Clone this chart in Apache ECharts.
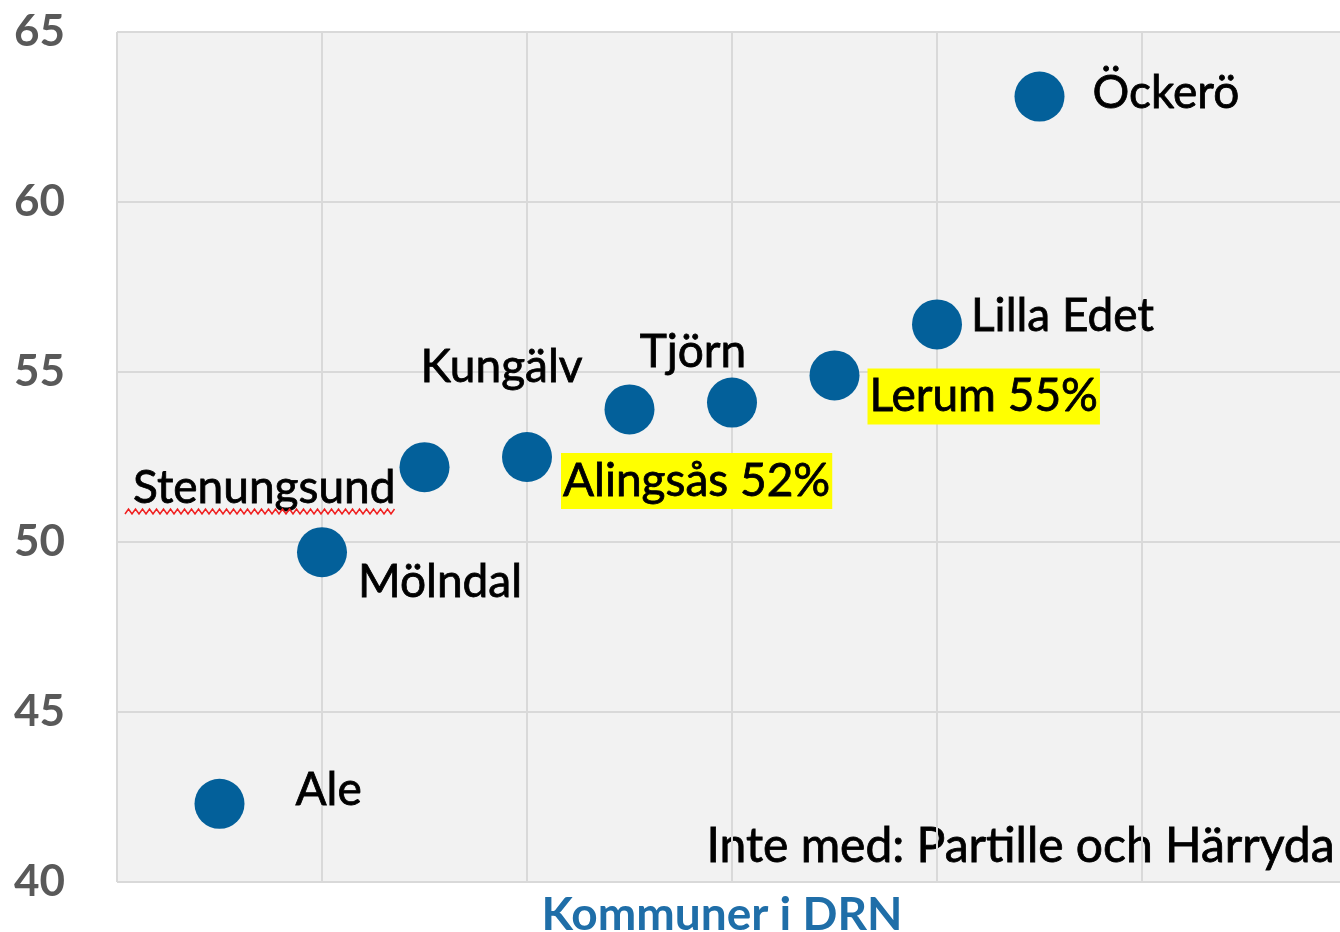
<!DOCTYPE html>
<html>
<head>
<meta charset="utf-8">
<title>Kommuner i DRN</title>
<script src="https://cdn.jsdelivr.net/npm/echarts@6/dist/echarts.min.js"></script>
<style>
  html, body { margin: 0; padding: 0; background: #fff; }
  #chart { width: 1340px; height: 932px; }
</style>
</head>
<body>
<div id="chart"></div>
<script>
// kommuner, x-position along the axis and value (%)
const kommuner = ['Ale', 'Mölndal', 'Stenungsund', 'Alingsås 52%', 'Kungälv', 'Tjörn', 'Lerum 55%', 'Lilla Edet', 'Öckerö']
const xPos = [0.5, 1, 1.5, 2, 2.5, 3, 3.5, 4, 4.5]
const andel = [42.3, 49.7, 52.2, 52.5, 53.9, 54.1, 54.9, 56.4, 63.1]
const markerade = ['Alingsås 52%', 'Lerum 55%']
const yTicks = [40, 45, 50, 55, 60, 65]

// where each label sits relative to its point
const labelPlace = {
  'Ale': { align: 'left', offset: [76, -14] },
  'Mölndal': { align: 'left', offset: [36, 30] },
  'Stenungsund': { align: 'right', offset: [-29, 21] },
  'Alingsås 52%': { align: 'left', offset: [34, 24] },
  'Kungälv': { align: 'right', offset: [-47, -42] },
  'Tjörn': { align: 'center', offset: [-39, -50] },
  'Lerum 55%': { align: 'left', offset: [33, 21] },
  'Lilla Edet': { align: 'left', offset: [34, -8] },
  'Öckerö': { align: 'left', offset: [53, -3] }
}

const FONT = 'Lato, "Open Sans", sans-serif'

let chart = echarts.init(document.getElementById('chart'))

let punkter = kommuner.map((namn, i) => {
  let p = labelPlace[namn]
  let hl = markerade.includes(namn)
  return {
    name: namn,
    value: [xPos[i], andel[i]],
    label: {
      show: true,
      position: 'inside',
      formatter: namn,
      align: p.align,
      verticalAlign: 'middle',
      offset: p.offset,
      color: '#000',
      fontFamily: FONT,
      fontSize: 46,
      textBorderColor: '#000',
      textBorderWidth: 0.8,
      backgroundColor: hl ? '#ffff00' : 'transparent',
      padding: hl ? [6, 2, 4, 2] : 0
    }
  }
})

// red squiggle under Stenungsund (spell check mark in the original)
let squiggle = []
for (let x = 125, k = 0; x <= 396; x += 3.5, k++) {
  squiggle.push([x, k % 2 ? 509 : 514])
}

let options = {
  animation: false,
  backgroundColor: '#fff',
  grid: {
    left: 117,
    top: 32,
    width: 1230,
    height: 850,
    show: true,
    backgroundColor: '#f2f2f2',
    borderWidth: 0,
    containLabel: false,
    outerBoundsMode: 'none'
  },
  xAxis: {
    type: 'value',
    min: 0,
    max: 6,
    interval: 1,
    name: 'Kommuner i DRN',
    nameLocation: 'middle',
    nameGap: 10,
    nameTextStyle: {
      color: '#1f6ea8',
      fontFamily: FONT,
      fontSize: 46,
      fontWeight: 'bold',
      padding: [0, 20, 0, 0]
    },
    axisLine: { show: false },
    axisTick: { show: false },
    axisLabel: { show: false },
    splitLine: { show: true, lineStyle: { color: '#d9d9d9', width: 2 } }
  },
  yAxis: {
    type: 'value',
    min: yTicks[0],
    max: yTicks[yTicks.length - 1],
    interval: 5,
    axisLine: { show: false },
    axisTick: { show: false },
    axisLabel: {
      color: '#595959',
      fontFamily: FONT,
      fontSize: 44,
      fontWeight: 'bold',
      margin: 52
    },
    splitLine: { show: true, lineStyle: { color: '#d9d9d9', width: 2 } }
  },
  graphic: [
    {
      type: 'text',
      right: 5,
      top: 822,
      style: {
        text: 'Inte med: Partille och Härryda',
        fill: '#000',
        stroke: '#000',
        lineWidth: 0.8,
        font: '48px ' + FONT
      }
    },
    {
      type: 'polyline',
      shape: { points: squiggle },
      style: { stroke: '#f02020', lineWidth: 1.5, fill: null },
      z: 10
    }
  ],
  series: [
    {
      type: 'scatter',
      symbol: 'circle',
      symbolSize: 50,
      itemStyle: { color: '#03609a', opacity: 1 },
      data: punkter
    }
  ]
}

chart.setOption(options)
</script>
</body>
</html>
